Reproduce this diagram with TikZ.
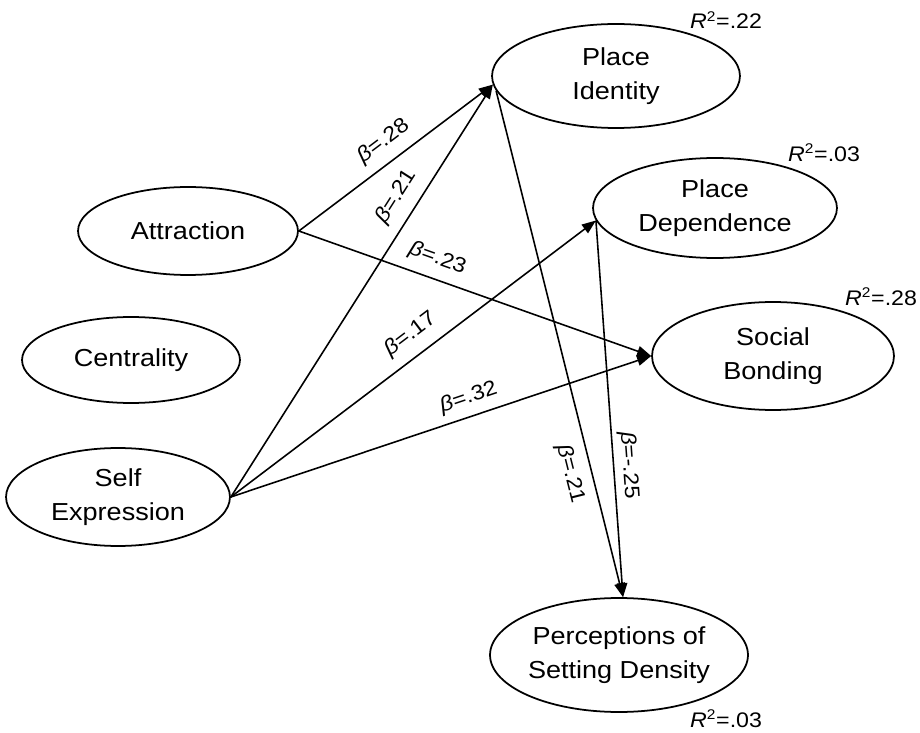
\documentclass[tikz,border=0pt]{standalone}
\usepackage{fontspec}
\setmainfont{Liberation Sans}[FakeStretch=1.1]
\usetikzlibrary{shapes.geometric,arrows.meta}
\begin{document}
\begin{tikzpicture}[x=0.02cm,y=-0.02cm,
  lat/.style={ellipse, draw, line width=1pt, inner sep=0pt, align=center, font=\fontsize{14}{19}\selectfont},
  pathline/.style={line width=0.9pt, -{Triangle[length=8pt,width=6pt]}},
  coef/.style={font=\fontsize{12}{14}\selectfont, inner sep=1pt, sloped},
  rsq/.style={font=\fontsize{12}{14}\selectfont, inner sep=0pt}]
\useasboundingbox (0,0) rectangle (920,733);
% latent variables
\node[lat, minimum width=4.96cm, minimum height=2.08cm] (PI) at (616,76) {Place\\Identity};
\node[lat, minimum width=4.88cm, minimum height=2.0cm] (PD) at (715,208) {Place\\Dependence};
\node[lat, minimum width=4.84cm, minimum height=2.16cm] (SB) at (773,356) {Social\\Bonding};
\node[lat, minimum width=5.16cm, minimum height=2.28cm] (PS) at (619,655) {Perceptions of\\Setting Density};
\node[lat, minimum width=4.4cm, minimum height=1.76cm] (AT) at (188,231) {Attraction};
\node[lat, minimum width=4.36cm, minimum height=1.72cm] (CE) at (131,360) {Centrality};
\node[lat, minimum width=4.48cm, minimum height=1.96cm] (SE) at (118,497) {Self\\Expression};
% R squared
\node[rsq] (r1) at (726,20) {\textit{R}\textsuperscript{2}=.22};
\node[rsq] (r2) at (824,153) {\textit{R}\textsuperscript{2}=.03};
\node[rsq] (r3) at (881,297) {\textit{R}\textsuperscript{2}=.28};
\node[rsq] (r4) at (726,719) {\textit{R}\textsuperscript{2}=.03};
% paths
\draw[pathline] (AT.east) -- node[coef, pos=0.50, above=4.5pt] {\textit{β}=.28} (PI.184);
\draw[pathline] (SE.east) -- node[coef, pos=0.70, above=5pt] {\textit{β}=.21} (PI.184);
\draw[pathline] (AT.east) -- node[coef, pos=0.374, above=4.5pt] {\textit{β}=.23} (SB.180);
\draw[pathline] (SE.east) -- node[coef, pos=0.527, above=5pt] {\textit{β}=.17} (PD.186);
\draw[pathline] (SE.east) -- node[coef, pos=0.58, above=3.5pt] {\textit{β}=.32} (SB.180);
\draw[pathline] (PI.187) -- node[coef, pos=0.747, below=5pt] {\textit{β}=.21} (PS.86);
\draw[pathline] (PD.186) -- node[coef, pos=0.653, above=1.5pt] {\textit{β}=-.25} (PS.86);
\end{tikzpicture}
\end{document}
